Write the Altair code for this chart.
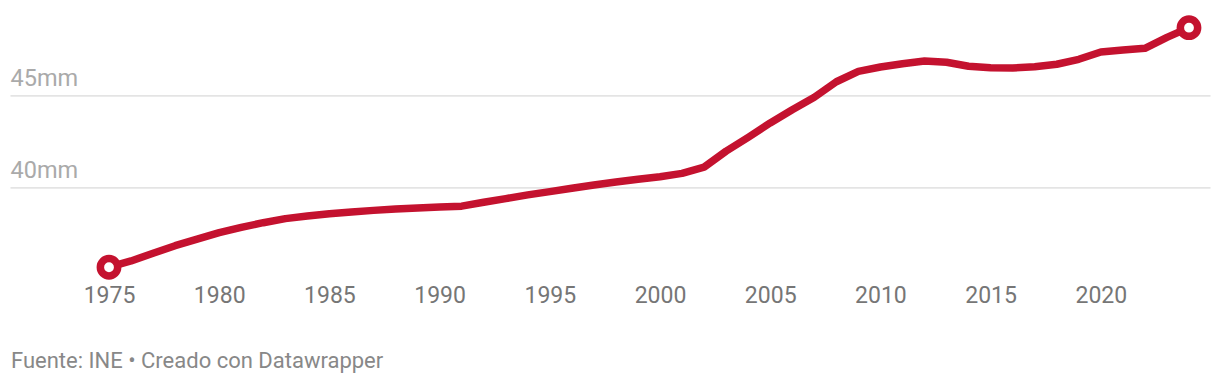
import altair as alt
import pandas as pd

years = [1975, 1976, 1977, 1978, 1979, 1980, 1981, 1982, 1983, 1984,
         1985, 1986, 1987, 1988, 1989, 1990, 1991, 1992, 1993, 1994,
         1995, 1996, 1997, 1998, 1999, 2000, 2001, 2002, 2003, 2004,
         2005, 2006, 2007, 2008, 2009, 2010, 2011, 2012, 2013, 2014,
         2015, 2016, 2017, 2018, 2019, 2020, 2021, 2022, 2023, 2024]
values = [35.64, 35.98, 36.40, 36.81, 37.17, 37.52, 37.81, 38.06, 38.28, 38.42,
          38.55, 38.64, 38.73, 38.80, 38.86, 38.91, 38.96, 39.17, 39.37, 39.57,
          39.75, 39.93, 40.11, 40.27, 40.42, 40.56, 40.74, 41.08, 41.95, 42.70,
          43.48, 44.20, 44.88, 45.72, 46.28, 46.52, 46.70, 46.85, 46.78, 46.56,
          46.48, 46.47, 46.54, 46.67, 46.94, 47.34, 47.44, 47.54, 48.13, 48.66]
x_ticks = [1975, 1980, 1985, 1990, 1995, 2000, 2005, 2010, 2015, 2020]
y_ticks = [40, 45]
footer = ["Fuente: INE • Creado con Datawrapper"]

RED = "#c4122f"
FONT = "Roboto"

df = pd.DataFrame({"year": years, "value": values})
ends = df.iloc[[0, -1]]

xs = alt.Scale(domain=[1970.508, 2024.953], nice=False, zero=False)
ys = alt.Scale(domain=[35, 49], nice=False, zero=False)

x_axis = alt.Axis(values=x_ticks, format="d", grid=False, ticks=False, tickSize=0,
                  domain=False, labelPadding=23, labelBaseline="alphabetic",
                  labelFont=FONT, labelFontSize=23, labelColor="#767676",
                  labelFlush=False, title=None)
y_axis = alt.Axis(values=y_ticks, grid=True, gridColor="#e4e4e4", gridWidth=1.6,
                  ticks=False, tickSize=0, domain=False, labelAlign="left",
                  labelBaseline="alphabetic", labelPadding=0, labelOffset=-10,
                  labelExpr="datum.value + 'mm'", labelFont=FONT, labelFontSize=23.5,
                  labelColor="#aaaaaa", labelFlush=False, title=None)

line = alt.Chart(df).mark_line(color=RED, strokeWidth=7.5, strokeJoin="round").encode(
    x=alt.X("year:Q", scale=xs, axis=x_axis),
    y=alt.Y("value:Q", scale=ys, axis=y_axis),
)
pts = alt.Chart(ends).mark_point(filled=True, fill="white", stroke=RED, strokeWidth=7.5,
                                 size=300, opacity=1).encode(
    x=alt.X("year:Q", scale=xs),
    y=alt.Y("value:Q", scale=ys),
)
foot = alt.Chart(pd.DataFrame({"t": footer})).mark_text(
    align="left", baseline="alphabetic", font=FONT, fontSize=22, color="#888888"
).encode(x=alt.value(1), y=alt.value(346.6), text="t:N")

chart = alt.layer(line, pts, foot).properties(
    width=1200, height=257.6,
    autosize=alt.AutoSizeParams(type="none"),
    padding={"left": 10, "right": 10, "top": 21.4, "bottom": 105},
    background="white",
).configure_view(stroke=None)

chart.save("out.html", embed_options={"renderer": "svg", "actions": False})
